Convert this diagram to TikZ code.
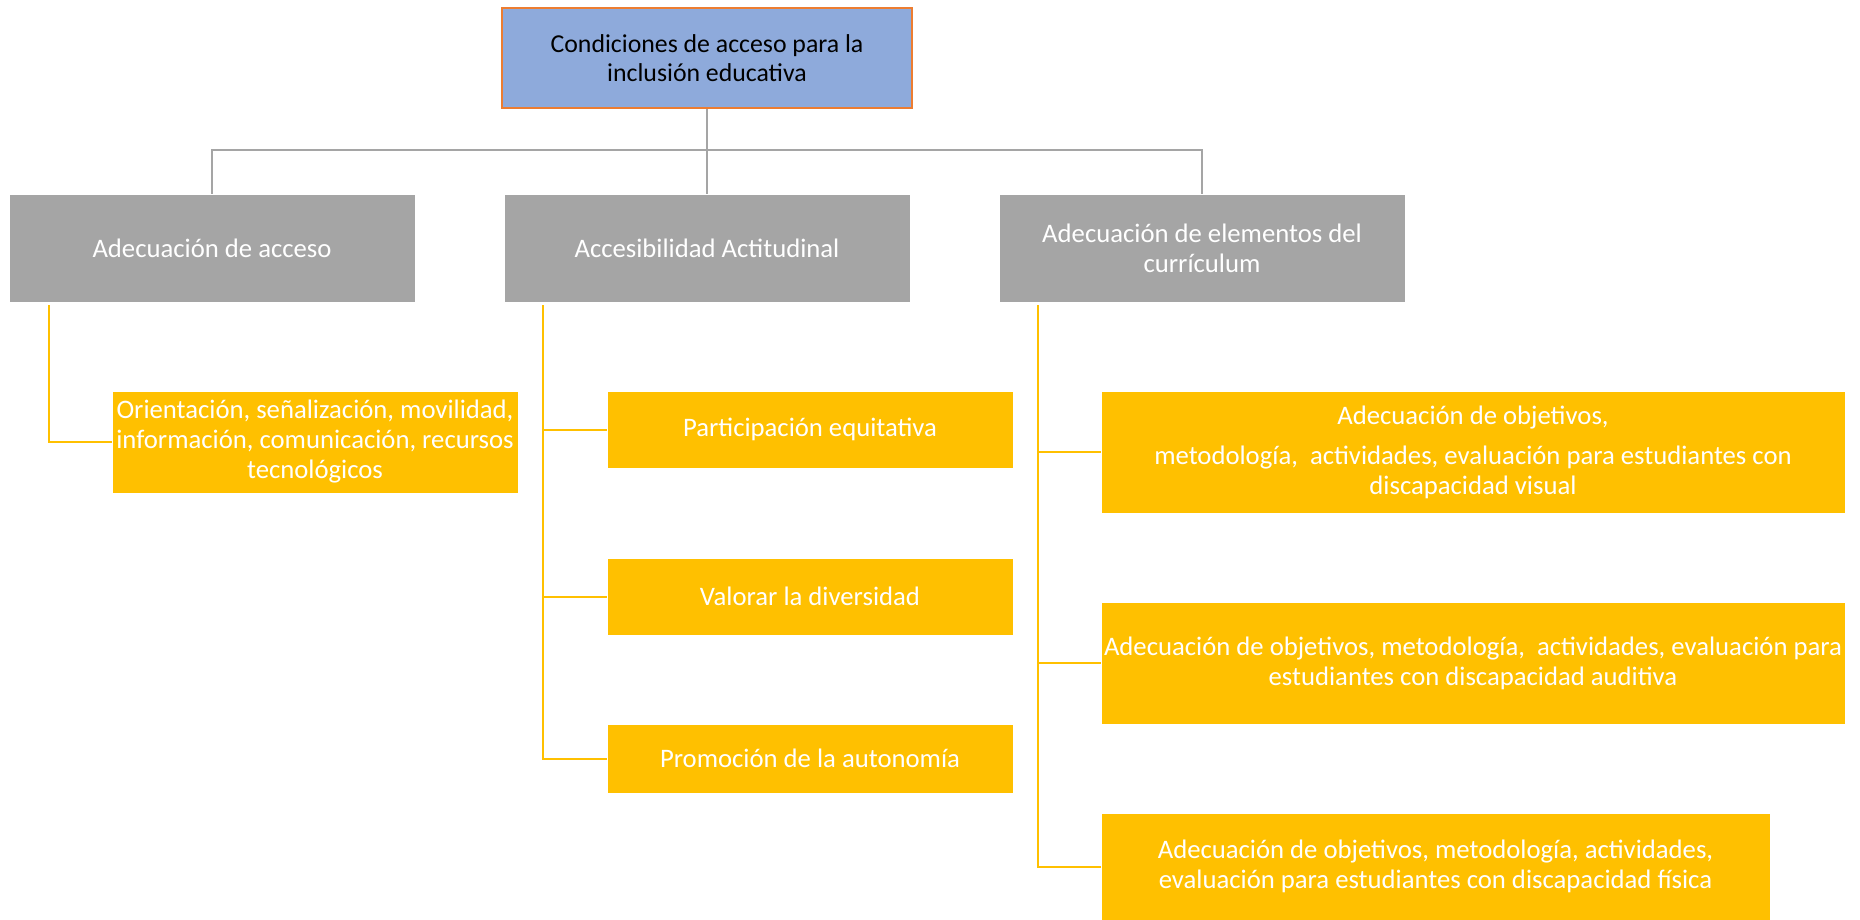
\documentclass[tikz,border=0pt]{standalone}
\usepackage{fontspec}
\setmainfont{Carlito}
\usetikzlibrary{positioning, calc}

\definecolor{topblue}{HTML}{8EAADB}
\definecolor{toporange}{HTML}{ED7D31}
\definecolor{boxgray}{HTML}{A5A5A5}
\definecolor{boxyellow}{HTML}{FFC000}

\tikzset{
	boxfont/.style={font=\fontsize{13.35}{15}\selectfont},
	topbox/.style={font=\fontsize{12.9}{14.8}\selectfont, draw=toporange, line width=1.2pt, fill=topblue, text=black, minimum width=205pt, minimum height=50pt, inner sep=0pt, align=center},
	catbox/.style={boxfont, draw=white, line width=0.4pt, fill=boxgray, text=white, minimum width=203pt, minimum height=54pt, inner sep=0pt, align=center},
	itembox/.style={boxfont, draw=white, line width=0.4pt, fill=boxyellow, text=white, inner sep=0pt, align=center},
	grayline/.style={draw=boxgray, line width=1pt},
	yellowline/.style={draw=boxyellow, line width=1pt},
}

\begin{document}
\begin{tikzpicture}[x=0.5pt, y=-0.5pt]
	\useasboundingbox (0,0) rectangle (1860,920);

	\node[topbox] (top) at (707,58) {Condiciones de acceso para la\\inclusión educativa};

	\node[catbox] (acc) at (212,248) {Adecuación de acceso};
	\node[catbox] (act) at (707,248) {Accesibilidad Actitudinal};
	\node[catbox] (cur) at (1202,248) {Adecuación de elementos del\\currículum};

	\node[itembox, minimum width=203pt, minimum height=51pt] (ori) at (315,442) {Orientación, señalización, movilidad,\\información, comunicación, recursos\\tecnológicos};

	\node[itembox, minimum width=203pt, minimum height=38.5pt] (part) at (810,429.5) {Participación equitativa};
	\node[itembox, minimum width=203pt, minimum height=38.5pt] (valo) at (810,596.5) {Valorar la diversidad};
	\node[itembox, minimum width=203pt, minimum height=34.5pt] (prom) at (810,758.5) {Promoción de la autonomía};

	\node[itembox, minimum width=372pt, minimum height=61pt] (vis) at (1473,452) {Adecuación de objetivos,\\[5pt]metodología,~ actividades, evaluación para estudiantes con\\discapacidad visual};
	\node[itembox, minimum width=372pt, minimum height=61pt] (aud) at (1473,663) {Adecuación de objetivos, metodología,~ actividades, evaluación para\\estudiantes con discapacidad auditiva};
	\node[itembox, minimum width=334.5pt, minimum height=53.5pt] (fis) at (1435.5,866.5) {Adecuación de objetivos, metodología, actividades,\\evaluación para estudiantes con discapacidad física};

	% gray tree
	\coordinate (bus) at (707,150);
	\draw[grayline] (top.south) -- (act.north);
	\draw[grayline] (acc.north) |- (bus) -| (cur.north);

	% yellow stems
	\coordinate (accstem) at ($(acc.south west)+(40,3)$);
	\coordinate (actstem) at ($(act.south west)+(39,3)$);
	\coordinate (curstem) at ($(cur.south west)+(39,3)$);

	\draw[yellowline] (accstem) |- (ori.west);

	\draw[yellowline] (actstem) |- (prom.west);
	\draw[yellowline] (part.west) -- (part.west -| actstem);
	\draw[yellowline] (valo.west) -- (valo.west -| actstem);

	\draw[yellowline] (curstem) |- (fis.west);
	\draw[yellowline] (vis.west) -- (vis.west -| curstem);
	\draw[yellowline] (aud.west) -- (aud.west -| curstem);
\end{tikzpicture}
\end{document}
